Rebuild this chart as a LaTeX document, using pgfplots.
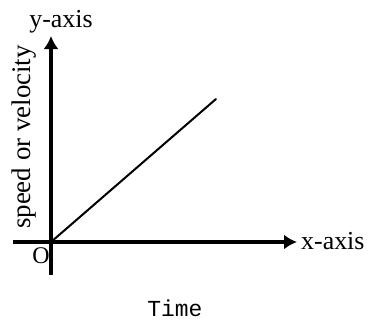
\documentclass[border=0pt]{standalone}
\usepackage{fontspec}
\setmainfont{Liberation Serif}
\setmonofont{Liberation Mono}
\usepackage{pgfplots}
\pgfplotsset{compat=1.18}
\usetikzlibrary{arrows.meta}
\begin{document}
\begin{tikzpicture}
\begin{axis}[
  x=1bp, y=1bp,
  xmin=-38, xmax=246, ymin=-33, ymax=206,
  enlargelimits=false,
  axis lines=middle,
  ticks=none,
  clip=false,
  axis line style={black, line width=3.5bp, -{Latex[length=13bp,width=15bp]}},
]
\addplot[black, line width=2bp, line cap=round] coordinates {(0,0) (165,143)};
\node[anchor=west, inner sep=0pt, font=\fontsize{26}{30}\selectfont] at (axis cs:250,1) {x-axis};
\node[inner sep=0pt, font=\fontsize{26}{30}\selectfont] at (axis cs:10,220) {y-axis};
\node[inner sep=0pt, font=\fontsize{24}{28}\selectfont] at (axis cs:-10,-14) {O};
\node[inner sep=0pt, rotate=90, font=\fontsize{27}{30}\selectfont] at (axis cs:-27,105) {speed or velocity};
\node[inner sep=0pt, font=\ttfamily\fontsize{23}{26}\selectfont] at (axis cs:124,-66) {Time};
\path (axis cs:-51,-78) rectangle (axis cs:317,242);
\end{axis}
\end{tikzpicture}
\end{document}
